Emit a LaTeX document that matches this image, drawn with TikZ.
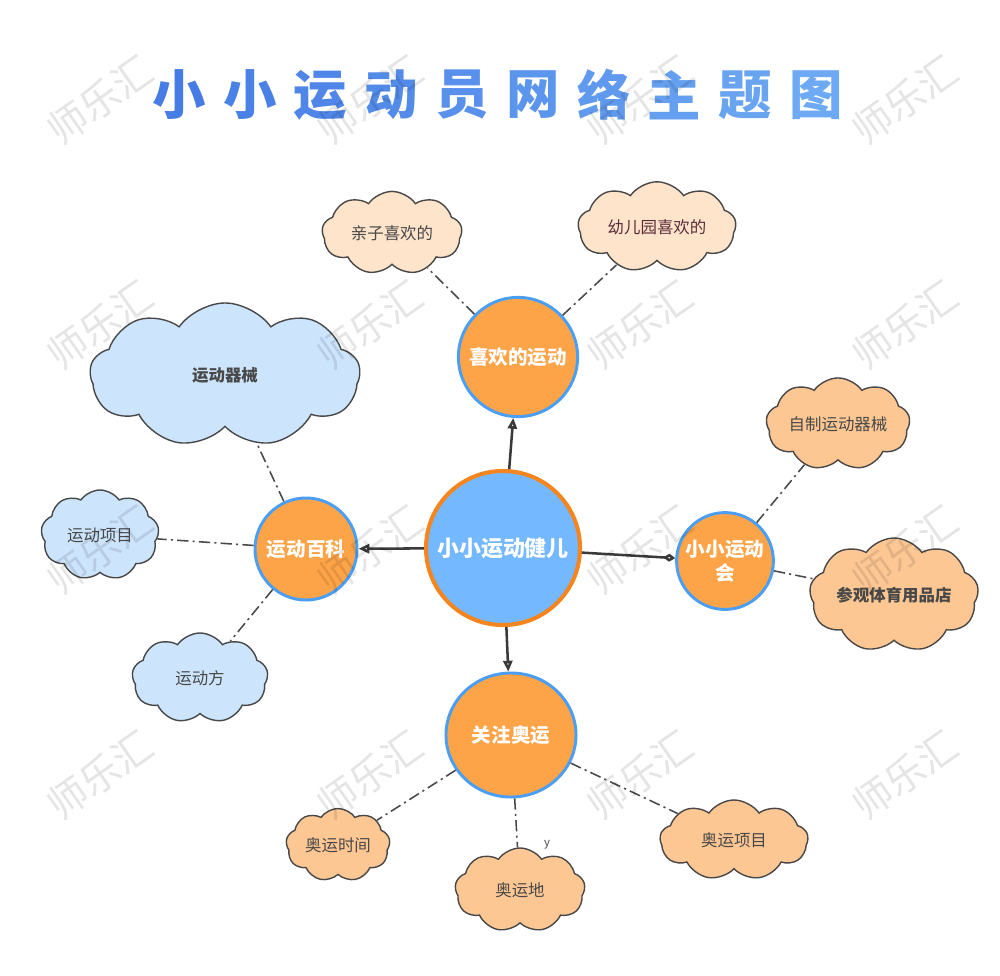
\documentclass[tikz,border=0pt]{standalone}
\usepackage{fontspec}
\setmainfont{Noto Sans CJK SC}
\usetikzlibrary{shapes.symbols, shapes.geometric, arrows.meta}

\definecolor{hubblue}{RGB}{116,185,255}
\definecolor{hubring}{RGB}{245,133,31}
\definecolor{topicorange}{RGB}{253,164,72}
\definecolor{topicring}{RGB}{74,159,245}
\definecolor{cloudpale}{RGB}{254,228,203}
\definecolor{cloudpeach}{RGB}{253,199,148}
\definecolor{cloudblue}{RGB}{204,228,252}
\definecolor{inkgray}{RGB}{72,72,72}
\definecolor{inkmaroon}{RGB}{92,44,58}
\definecolor{titleleft}{RGB}{70,124,228}
\definecolor{titleright}{RGB}{110,170,243}

\tikzset{
  topic/.style={circle, draw=topicring, line width=2.1pt, fill=topicorange,
    text=white, font=\fontsize{13.9}{17}\selectfont\bfseries, inner sep=0pt, align=center},
  idea/.style={cloud, cloud puffs=9, cloud puff arc=110, draw=inkgray,
    line width=1pt, text=inkgray, font=\fontsize{11.7}{14}\selectfont, inner sep=0pt},
  link/.style={draw=inkgray!80!black, line width=1.8pt},
  dashlink/.style={draw=inkgray, line width=1.1pt,
    dash pattern=on 8pt off 3pt on 1.5pt off 3pt},
  tipopen/.style={-{Triangle[open, length=2.7mm, width=2.3mm]}},
  wmark/.style={rotate=35, text=black, text opacity=0.1,
    font=\fontsize{28}{30}\selectfont},
}

\begin{document}
\begin{tikzpicture}[x=0.025cm, y=-0.025cm]
  \useasboundingbox (0,0) rectangle (1000,975);

  % 标题
  \foreach \c [count=\i] in {小,小,运,动,员,网,络,主,题,图} {
    \pgfmathsetmacro\p{100-(\i-1)*11}
    \node[text=titleleft!\p!titleright, font=\fontsize{38}{40}\selectfont\bfseries]
      at ({179+70.8*(\i-1)}, 95) {\c};
  }

  % 中心主题
  \node[circle, draw=hubring, line width=2.9pt, fill=hubblue, minimum size=3.85cm,
    inner sep=0pt, text=white, font=\fontsize{15.6}{18}\selectfont\bfseries] (hub) at (503,548) {小小运动健儿};

  % 四个分支
  \node[topic, minimum size=2.98cm] (like) at (518,357) {喜欢的运动};
  \node[topic, minimum size=2.55cm] (wiki) at (306,549) {运动百科};
  \node[topic, minimum size=2.42cm] (meet) at (725,561) {小小运动\\会};
  \node[topic, ellipse, minimum width=3.25cm, minimum height=3.1cm] (olym) at (511,735) {关注奥运};

  % 喜欢的运动 的云朵
  \node[idea, fill=cloudpale, minimum width=3.5cm, minimum height=2.0cm, aspect=1.75] (parent) at (392,233) {亲子喜欢的};
  \node[idea, fill=cloudpale, text=inkmaroon, minimum width=3.95cm, minimum height=1.95cm, aspect=2] (kinder) at (657,227) {幼儿园喜欢的};

  % 运动百科 的云朵
  \node[idea, fill=cloudblue, minimum width=6.75cm, minimum height=3.6cm, aspect=1.85,
    font=\fontsize{11.7}{14}\selectfont\bfseries] (gear) at (225,375) {运动器械};
  \node[idea, fill=cloudblue, minimum width=2.95cm, minimum height=2.25cm, aspect=1.3] (events) at (100,535) {运动项目};
  \node[idea, fill=cloudblue, minimum width=3.4cm, minimum height=2.25cm, aspect=1.5] (method) at (200,678) {运动方};

  % 小小运动会 的云朵
  \node[idea, fill=cloudpeach, minimum width=3.5cm, minimum height=1.8cm, aspect=1.95] (diy) at (838,424) {自制运动器械};
  \node[idea, fill=cloudpeach, minimum width=4.05cm, minimum height=2.25cm, aspect=1.8,
    font=\fontsize{11.7}{14}\selectfont\bfseries] (shop) at (894,595) {参观体育用品店};

  % 关注奥运 的云朵
  \node[idea, fill=cloudpeach, minimum width=2.6cm, minimum height=1.65cm, aspect=1.55] (otime) at (338,845) {奥运时间};
  \node[idea, fill=cloudpeach, minimum width=3.25cm, minimum height=2.1cm, aspect=1.55] (oplace) at (520,890) {奥运地};
  \node[idea, fill=cloudpeach, minimum width=3.7cm, minimum height=2.0cm, aspect=1.85] (oevent) at (734,840) {奥运项目};
  \node[text=inkgray, font=\fontsize{8}{8}\selectfont] (stray) at (547,845) {y};

  % 中心连线
  \draw[link, tipopen] (hub) -- (like);
  \draw[link, tipopen] (hub) -- (wiki);
  \draw[link, -{Diamond[open, length=3mm, width=2mm]}] (hub) -- (meet);
  \draw[link, tipopen] (hub) -- (olym);

  % 分支连线（点划线）
  \draw[dashlink] (like) -- (parent);
  \draw[dashlink] (like) -- (kinder);
  \draw[dashlink] (wiki) -- (gear);
  \draw[dashlink] (wiki) -- (events);
  \draw[dashlink] (wiki) -- (method);
  \draw[dashlink] (meet) -- (diy);
  \draw[dashlink] (meet) -- (shop);
  \draw[dashlink] (olym) -- (otime);
  \draw[dashlink] (olym) -- (oplace);
  \draw[dashlink] (olym) -- (oevent);

  % 水印
  \foreach \wx in {100,370,640,905}
    \foreach \wy in {100,325,550,775}
      \node[wmark] at (\wx,\wy) {师乐汇};
\end{tikzpicture}
\end{document}
